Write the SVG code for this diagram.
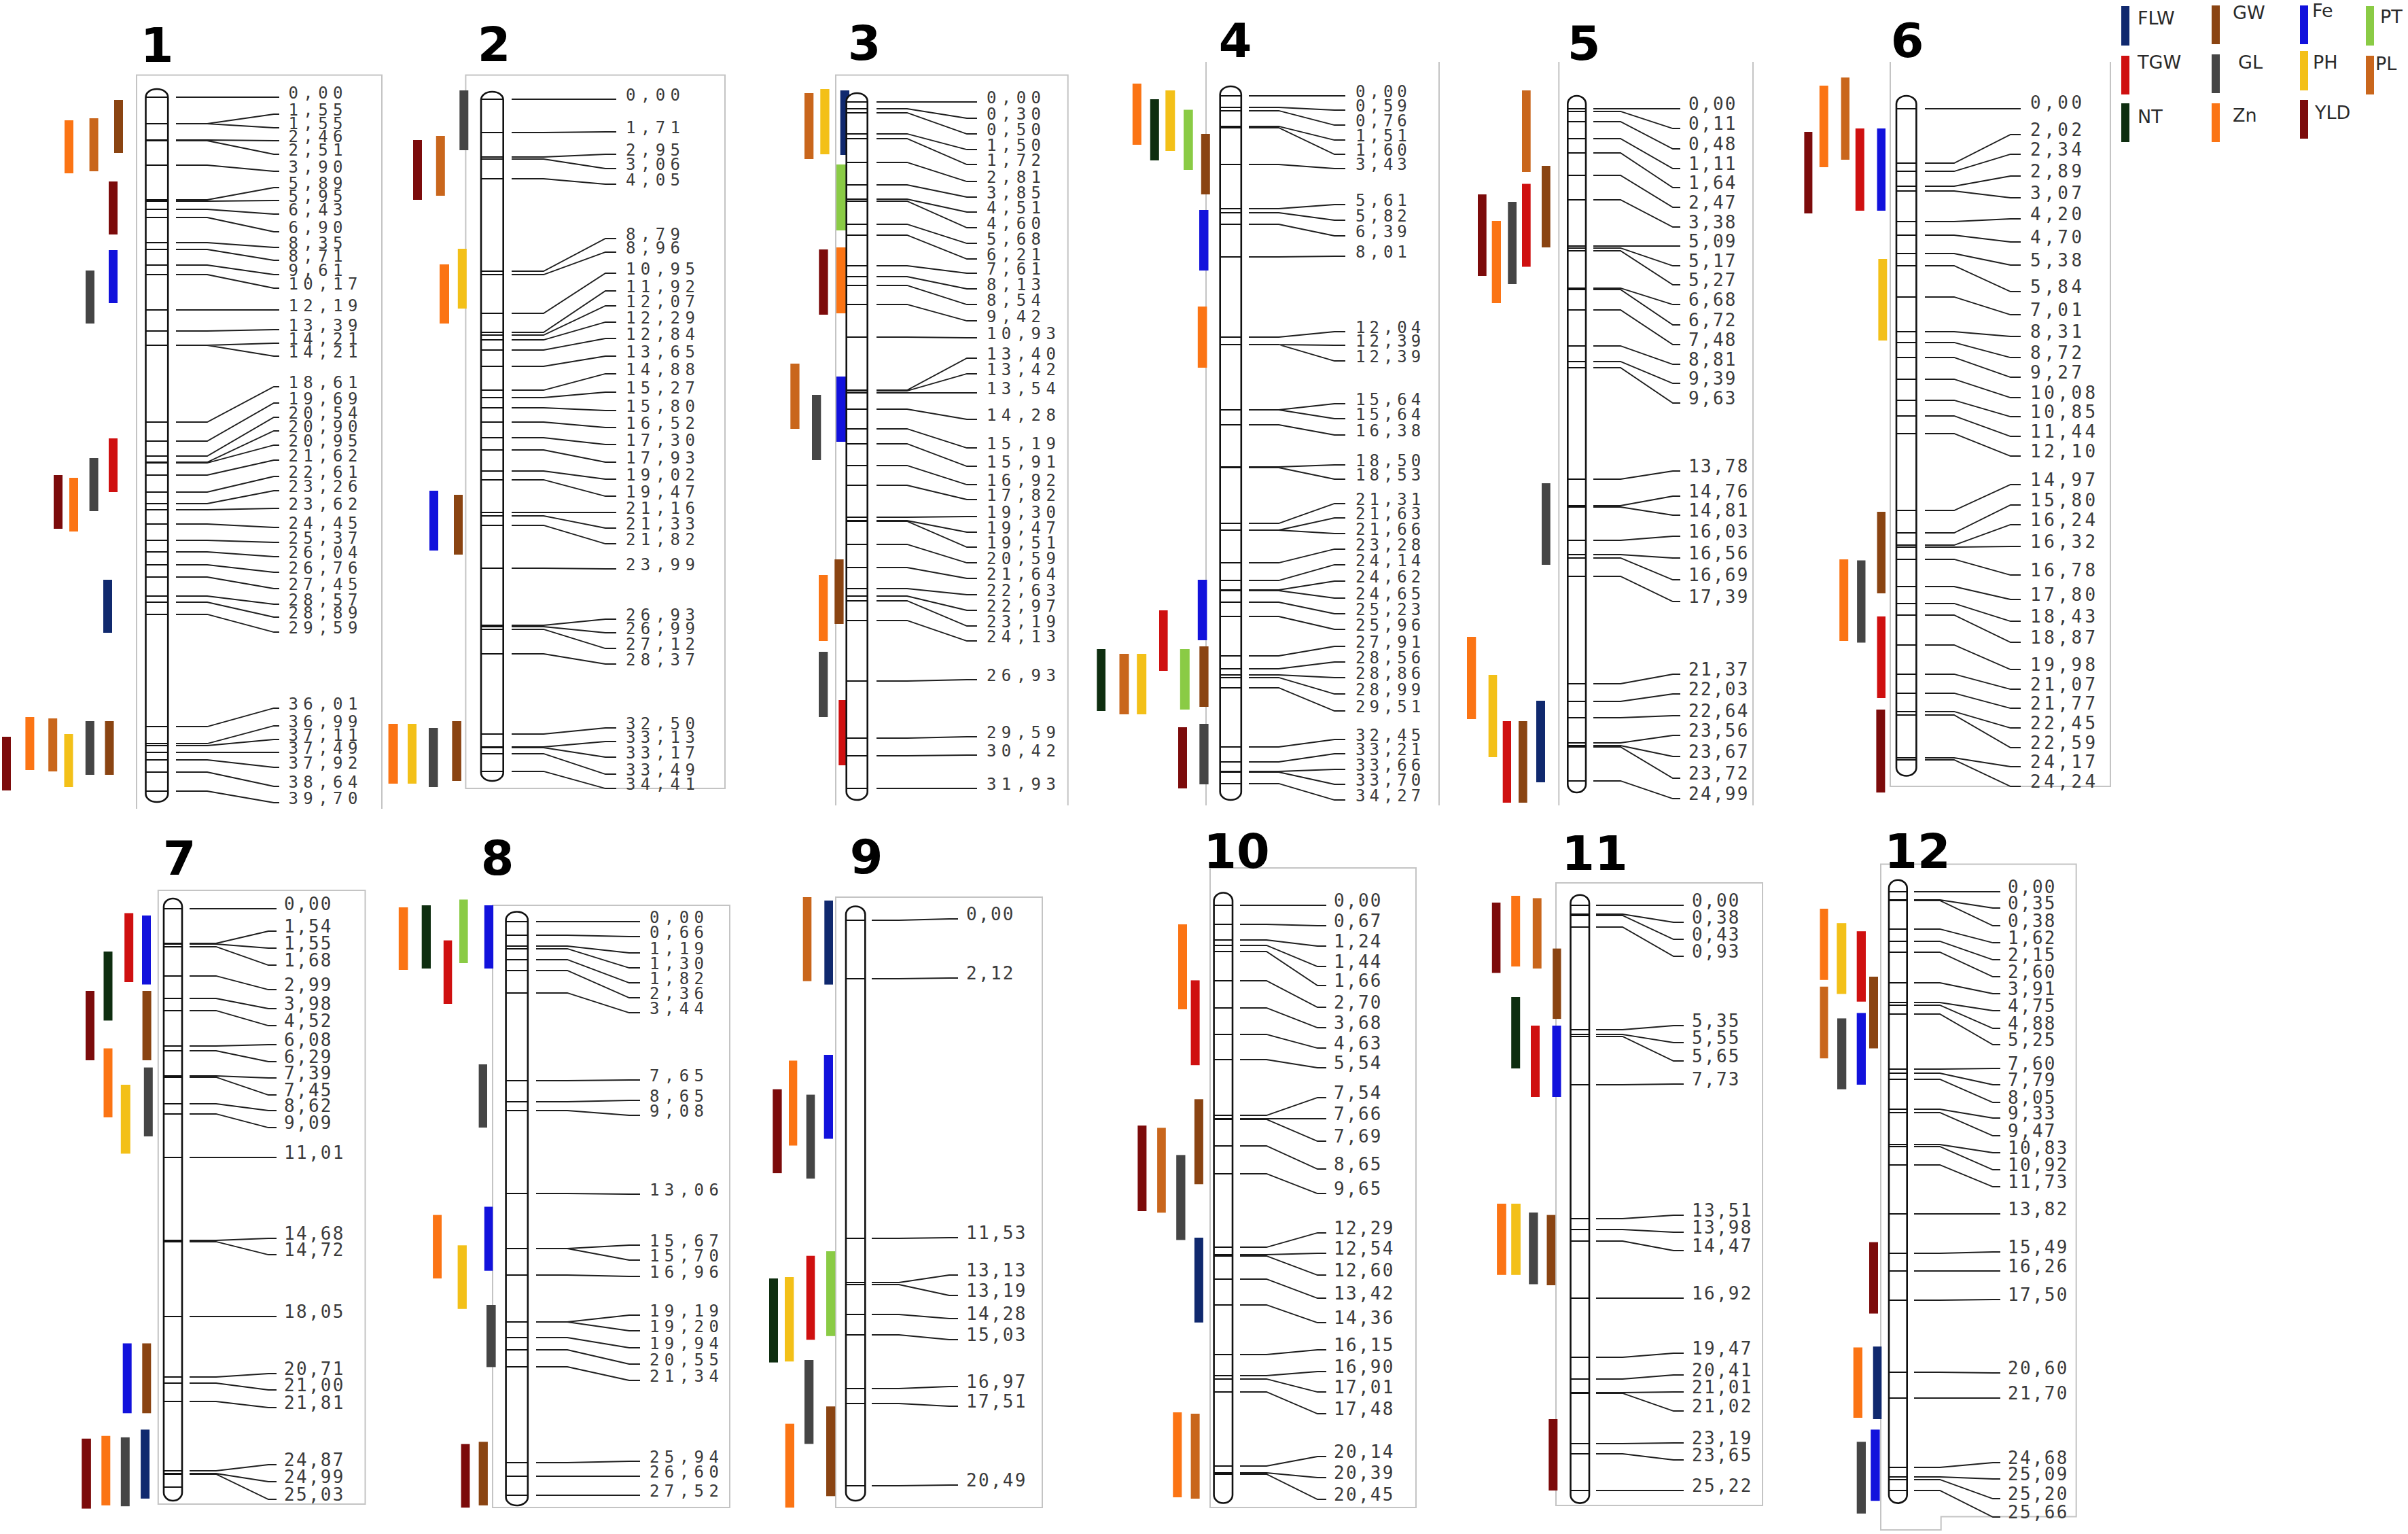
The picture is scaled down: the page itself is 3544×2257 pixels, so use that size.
<svg xmlns="http://www.w3.org/2000/svg" width="3544" height="2257" viewBox="0 0 3544 2257">
<style>
.frame{fill:none;stroke:#c4c4c4;stroke-width:2}
.rod{fill:#fff;stroke:#111;stroke-width:2.6}
.tk{fill:none;stroke:#111;stroke-width:1.8}
.lk{fill:none;stroke:#1e1e1e;stroke-width:1.8}
.lb{font-family:"DejaVu Sans Mono","Liberation Mono",monospace;font-size:26px;fill:#3a3a3a}
.wA{font-size:24px;letter-spacing:7.4px}
.wB{font-size:24px;letter-spacing:6px}
.wB6{letter-spacing:4.5px}
.wC{letter-spacing:2.3px}
.ttl{font-family:"DejaVu Sans","Liberation Sans",sans-serif;font-weight:bold;font-size:70px;text-anchor:middle;fill:#000}
.lg{font-family:"DejaVu Sans","Liberation Sans",sans-serif;font-size:27px;fill:#2a2a2a}
.FLW{fill:#10296e}.GW{fill:#8a4412}.Fe{fill:#1212dc}.PT{fill:#8acb45}
.TGW{fill:#cf1010}.GL{fill:#454545}.PH{fill:#f3c018}.PL{fill:#c9661c}
.NT{fill:#0e2e10}.Zn{fill:#fb7414}.YLD{fill:#7c0b0b}
</style>
<rect width="3544" height="2257" fill="#fff"/>

<g id="legend">
<rect class="FLW" x="3122" y="9" width="12" height="58"/><text class="lg" x="3146" y="36">FLW</text>
<rect class="TGW" x="3122" y="82" width="12" height="57"/><text class="lg" x="3146" y="101">TGW</text>
<rect class="NT" x="3122" y="152" width="12" height="57"/><text class="lg" x="3146" y="181">NT</text>
<rect class="GW" x="3255" y="8" width="12" height="57"/><text class="lg" x="3286" y="28">GW</text>
<rect class="GL" x="3255" y="80" width="12" height="57"/><text class="lg" x="3294" y="101">GL</text>
<rect class="Zn" x="3255" y="152" width="12" height="57"/><text class="lg" x="3286" y="179">Zn</text>
<rect class="Fe" x="3385" y="8" width="12" height="57"/><text class="lg" x="3403" y="25">Fe</text>
<rect class="PH" x="3385" y="75" width="12" height="58"/><text class="lg" x="3404" y="101">PH</text>
<rect class="YLD" x="3385" y="147" width="12" height="57"/><text class="lg" x="3407" y="175">YLD</text>
<rect class="PT" x="3482" y="9" width="12" height="58"/><text class="lg" x="3503" y="34">PT</text>
<rect class="PL" x="3482" y="82" width="12" height="57"/><text class="lg" x="3496" y="103">PL</text>
</g>

<!-- ================= CHR 1 ================= -->
<g id="chr1">
<path class="frame" d="M201 1190V110.5H562V1190"/>
<text class="ttl" x="231" y="91">1</text>
<g class="qtl">
<rect class="Zn" x="95" y="177" width="13" height="78"/>
<rect class="PL" x="131.6" y="174" width="13" height="78"/>
<rect class="GW" x="168" y="147" width="13" height="78"/>
<rect class="YLD" x="160" y="267" width="13" height="78"/>
<rect class="Fe" x="160" y="368" width="13" height="78"/>
<rect class="GL" x="126" y="398" width="13" height="78"/>
<rect class="TGW" x="160" y="645" width="13" height="79"/>
<rect class="GL" x="131.6" y="674" width="13" height="78"/>
<rect class="YLD" x="79" y="699" width="13" height="79"/>
<rect class="Zn" x="102" y="703" width="13" height="79"/>
<rect class="FLW" x="152" y="853" width="13" height="78"/>
<rect class="YLD" x="3" y="1084" width="13" height="79"/>
<rect class="Zn" x="37.4" y="1055" width="13" height="78"/>
<rect class="PL" x="71.2" y="1057" width="13" height="78"/>
<rect class="PH" x="94.5" y="1080" width="13" height="78"/>
<rect class="GL" x="125.8" y="1061" width="13" height="79"/>
<rect class="GW" x="154.5" y="1061" width="13" height="79"/>
</g>
<rect class="rod" x="214.5" y="131" width="32.7" height="1049" rx="16" ry="12"/>
<path class="tk" d="M215 143h32M215 182h32M215 206h32M215 207h32M215 243h32M215 294h32M215 296h32M215 308h32M215 320h32M215 357h32M215 367h32M215 390h32M215 404h32M215 456h32M215 487h32M215 508h32M215 621h32M215 649h32M215 671h32M215 680h32M215 681h32M215 699h32M215 724h32M215 741h32M215 750h32M215 771h32M215 795h32M215 812h32M215 831h32M215 849h32M215 877h32M215 886h32M215 904h32M215 1069h32M215 1094h32M215 1097h32M215 1107h32M215 1118h32M215 1136h32M215 1164h32"/>
<path class="lk" d="M259 143H305L403 143H411M259 182H305L403 168H411M259 182H305L403 188H411M259 206H305L403 207H411M259 207H305L403 227H411M259 243H305L403 252H411M259 294H305L403 276H411M259 296H305L403 295H411M259 308H305L403 315H411M259 320H305L403 341H411M259 357H305L403 364H411M259 367H305L403 383H411M259 390H305L403 404H411M259 404H305L403 424H411M259 456H305L403 456H411M259 487H305L403 485H411M259 508H305L403 505H411M259 508H305L403 524H411M259 621H305L403 569H411M259 649H305L403 593H411M259 671H305L403 614H411M259 680H305L403 634H411M259 681H305L403 655H411M259 699H305L403 677H411M259 724H305L403 701H411M259 741H305L403 722H411M259 750H305L403 748H411M259 771H305L403 776H411M259 795H305L403 798H411M259 812H305L403 819H411M259 831H305L403 842H411M259 849H305L403 866H411M259 877H305L403 889H411M259 886H305L403 908H411M259 904H305L403 930H411M259 1069H305L403 1042H411M259 1094H305L403 1068H411M259 1097H305L403 1088H411M259 1107H305L403 1107H411M259 1118H305L403 1129H411M259 1136H305L403 1157H411M259 1164H305L403 1181H411"/>
<g class="lb wA">
<text x="424.5" y="145">0,00</text><text x="424.5" y="170">1,55</text><text x="424.5" y="190">1,55</text><text x="424.5" y="209">2,46</text><text x="424.5" y="229">2,51</text><text x="424.5" y="254">3,90</text><text x="424.5" y="278">5,89</text><text x="424.5" y="297">5,95</text><text x="424.5" y="317">6,43</text><text x="424.5" y="343">6,90</text><text x="424.5" y="366">8,35</text><text x="424.5" y="385">8,71</text><text x="424.5" y="406">9,61</text><text x="424.5" y="426">10,17</text><text x="424.5" y="458">12,19</text><text x="424.5" y="487">13,39</text><text x="424.5" y="507">14,21</text><text x="424.5" y="526">14,21</text><text x="424.5" y="571">18,61</text><text x="424.5" y="595">19,69</text><text x="424.5" y="616">20,54</text><text x="424.5" y="636">20,90</text><text x="424.5" y="657">20,95</text><text x="424.5" y="679">21,62</text><text x="424.5" y="703">22,61</text><text x="424.5" y="724">23,26</text><text x="424.5" y="750">23,62</text><text x="424.5" y="778">24,45</text><text x="424.5" y="800">25,37</text><text x="424.5" y="821">26,04</text><text x="424.5" y="844">26,76</text><text x="424.5" y="868">27,45</text><text x="424.5" y="891">28,57</text><text x="424.5" y="910">28,89</text><text x="424.5" y="932">29,59</text><text x="424.5" y="1044">36,01</text><text x="424.5" y="1070">36,99</text><text x="424.5" y="1090">37,11</text><text x="424.5" y="1109">37,49</text><text x="424.5" y="1131">37,92</text><text x="424.5" y="1159">38,64</text><text x="424.5" y="1183">39,70</text>
</g>
</g>

<!-- ================= CHR 2 ================= -->
<g id="chr2">
<rect class="frame" x="685.4" y="110.5" width="381.6" height="1049.5"/>
<text class="ttl" x="727" y="90">2</text>
<g class="qtl">
<rect class="GL" x="676.3" y="133" width="13" height="88"/>
<rect class="YLD" x="608" y="206" width="13" height="88"/>
<rect class="PL" x="641.8" y="200" width="13" height="88"/>
<rect class="PH" x="673.8" y="366" width="13" height="88"/>
<rect class="Zn" x="647" y="389" width="14" height="87"/>
<rect class="Fe" x="632" y="722" width="13" height="88"/>
<rect class="GW" x="668" y="728" width="13" height="88"/>
<rect class="Zn" x="571.6" y="1065" width="14" height="88"/>
<rect class="PH" x="600" y="1065" width="13" height="88"/>
<rect class="GL" x="631" y="1071" width="13.5" height="87"/>
<rect class="GW" x="665.4" y="1061" width="13.5" height="88"/>
</g>
<rect class="rod" x="708" y="135" width="32.7" height="1014" rx="16" ry="12"/>
<path class="tk" d="M708 146h33M708 195h33M708 231h33M708 234h33M708 263h33M708 399h33M708 404h33M708 461h33M708 489h33M708 493h33M708 500h33M708 515h33M708 539h33M708 574h33M708 585h33M708 600h33M708 621h33M708 644h33M708 662h33M708 693h33M708 706h33M708 754h33M708 759h33M708 773h33M708 836h33M708 920h33M708 922h33M708 926h33M708 962h33M708 1080h33M708 1099h33M708 1100h33M708 1109h33M708 1135h33"/>
<path class="lk" d="M753 146H800L891 146H907M753 195H800L891 194H907M753 231H800L891 227H907M753 234H800L891 248H907M753 263H800L891 271H907M753 399H800L891 351H907M753 404H800L891 371H907M753 461H800L891 402H907M753 489H800L891 428H907M753 493H800L891 450H907M753 500H800L891 474H907M753 515H800L891 498H907M753 539H800L891 524H907M753 574H800L891 550H907M753 585H800L891 577H907M753 600H800L891 604H907M753 621H800L891 629H907M753 644H800L891 654H907M753 662H800L891 680H907M753 693H800L891 705H907M753 706H800L891 730H907M753 754H800L891 754H907M753 759H800L891 777H907M753 773H800L891 800H907M753 836H800L891 837H907M753 920H800L891 911H907M753 922H800L891 931H907M753 926H800L891 954H907M753 962H800L891 977H907M753 1080H800L891 1071H907M753 1099H800L891 1091H907M753 1100H800L891 1114H907M753 1109H800L891 1139H907M753 1135H800L891 1160H907"/>
<g class="lb wA">
<text x="921" y="148">0,00</text><text x="921" y="196">1,71</text><text x="921" y="229">2,95</text><text x="921" y="250">3,06</text><text x="921" y="273">4,05</text><text x="921" y="353">8,79</text><text x="921" y="373">8,96</text><text x="921" y="404">10,95</text><text x="921" y="430">11,92</text><text x="921" y="452">12,07</text><text x="921" y="476">12,29</text><text x="921" y="500">12,84</text><text x="921" y="526">13,65</text><text x="921" y="552">14,88</text><text x="921" y="579">15,27</text><text x="921" y="606">15,80</text><text x="921" y="631">16,52</text><text x="921" y="656">17,30</text><text x="921" y="682">17,93</text><text x="921" y="707">19,02</text><text x="921" y="732">19,47</text><text x="921" y="756">21,16</text><text x="921" y="779">21,33</text><text x="921" y="802">21,82</text><text x="921" y="839">23,99</text><text x="921" y="913">26,93</text><text x="921" y="933">26,99</text><text x="921" y="956">27,12</text><text x="921" y="979">28,37</text><text x="921" y="1073">32,50</text><text x="921" y="1093">33,13</text><text x="921" y="1116">33,17</text><text x="921" y="1141">33,49</text><text x="921" y="1162">34,41</text>
</g>
</g>

<!-- ================= CHR 3 ================= -->
<g id="chr3">
<path class="frame" d="M1230 1185V110.5H1571.7V1185"/>
<text class="ttl" x="1272" y="88">3</text>
<g class="qtl">
<rect class="PL" x="1184" y="137" width="13.3" height="97"/>
<rect class="PH" x="1207.3" y="131" width="13.3" height="96"/>
<rect class="FLW" x="1236.7" y="133" width="13.3" height="95"/>
<rect class="PT" x="1231" y="242" width="15" height="97"/>
<rect class="YLD" x="1205.3" y="367" width="13.3" height="96"/>
<rect class="Zn" x="1231" y="364" width="15" height="97"/>
<rect class="PL" x="1163.3" y="535" width="13.3" height="96"/>
<rect class="GL" x="1195" y="581" width="13.3" height="96"/>
<rect class="Fe" x="1231" y="554" width="15" height="96"/>
<rect class="GW" x="1228.3" y="823" width="13.3" height="95"/>
<rect class="Zn" x="1205" y="846" width="13.3" height="97"/>
<rect class="GL" x="1205" y="959" width="13.3" height="96"/>
<rect class="TGW" x="1234.3" y="1030" width="13.3" height="96"/>
</g>
<rect class="rod" x="1245.7" y="137" width="31" height="1040" rx="15.5" ry="12"/>
<path class="tk" d="M1246 150h31M1246 160h31M1246 166h31M1246 197h31M1246 204h31M1246 239h31M1246 272h31M1246 293h31M1246 296h31M1246 330h31M1246 346h31M1246 391h31M1246 407h31M1246 420h31M1246 448h31M1246 496h31M1246 574h31M1246 575h31M1246 578h31M1246 602h31M1246 631h31M1246 653h31M1246 685h31M1246 714h31M1246 761h31M1246 766h31M1246 767h31M1246 801h31M1246 835h31M1246 866h31M1246 877h31M1246 884h31M1246 913h31M1246 1002h31M1246 1086h31M1246 1112h31M1246 1160h31"/>
<path class="lk" d="M1290 150H1335L1423 150H1438M1290 160H1335L1423 174H1438M1290 166H1335L1423 197H1438M1290 197H1335L1423 220H1438M1290 204H1335L1423 242H1438M1290 239H1335L1423 267H1438M1290 272H1335L1423 290H1438M1290 293H1335L1423 312H1438M1290 296H1335L1423 335H1438M1290 330H1335L1423 358H1438M1290 346H1335L1423 381H1438M1290 391H1335L1423 402H1438M1290 407H1335L1423 425H1438M1290 420H1335L1423 448H1438M1290 448H1335L1423 472H1438M1290 496H1335L1423 497H1438M1290 574H1335L1423 527H1438M1290 575H1335L1423 550H1438M1290 578H1335L1423 578H1438M1290 602H1335L1423 617H1438M1290 631H1335L1423 659H1438M1290 653H1335L1423 686H1438M1290 685H1335L1423 713H1438M1290 714H1335L1423 735H1438M1290 761H1335L1423 760H1438M1290 766H1335L1423 783H1438M1290 767H1335L1423 805H1438M1290 801H1335L1423 828H1438M1290 835H1335L1423 851H1438M1290 866H1335L1423 875H1438M1290 877H1335L1423 898H1438M1290 884H1335L1423 921H1438M1290 913H1335L1423 943H1438M1290 1002H1335L1423 1000H1438M1290 1086H1335L1423 1084H1438M1290 1112H1335L1423 1111H1438M1290 1160H1335L1423 1160H1438"/>
<g class="lb wA">
<text x="1452" y="152">0,00</text><text x="1452" y="176">0,30</text><text x="1452" y="199">0,50</text><text x="1452" y="222">1,50</text><text x="1452" y="244">1,72</text><text x="1452" y="269">2,81</text><text x="1452" y="292">3,85</text><text x="1452" y="314">4,51</text><text x="1452" y="337">4,60</text><text x="1452" y="360">5,68</text><text x="1452" y="383">6,21</text><text x="1452" y="404">7,61</text><text x="1452" y="427">8,13</text><text x="1452" y="450">8,54</text><text x="1452" y="474">9,42</text><text x="1452" y="499">10,93</text><text x="1452" y="529">13,40</text><text x="1452" y="552">13,42</text><text x="1452" y="580">13,54</text><text x="1452" y="619">14,28</text><text x="1452" y="661">15,19</text><text x="1452" y="688">15,91</text><text x="1452" y="715">16,92</text><text x="1452" y="737">17,82</text><text x="1452" y="762">19,30</text><text x="1452" y="785">19,47</text><text x="1452" y="807">19,51</text><text x="1452" y="830">20,59</text><text x="1452" y="853">21,64</text><text x="1452" y="877">22,63</text><text x="1452" y="900">22,97</text><text x="1452" y="923">23,19</text><text x="1452" y="945">24,13</text><text x="1452" y="1002">26,93</text><text x="1452" y="1086">29,59</text><text x="1452" y="1113">30,42</text><text x="1452" y="1162">31,93</text>
</g>
</g>

<!-- ================= CHR 4 ================= -->
<g id="chr4">
<path class="frame" d="M1775 91V1185M2118 91V1185"/>
<text class="ttl" x="1818" y="84">4</text>
<g class="qtl">
<rect class="Zn" x="1666.8" y="123" width="13" height="90"/>
<rect class="NT" x="1692.8" y="146" width="13" height="90"/>
<rect class="PH" x="1715.3" y="133" width="14" height="89"/>
<rect class="PT" x="1742" y="161.5" width="13.7" height="88.5"/>
<rect class="GW" x="1767.8" y="197" width="13" height="89"/>
<rect class="Fe" x="1765" y="309" width="13.5" height="89"/>
<rect class="Zn" x="1762.8" y="451" width="13.6" height="90"/>
<rect class="Fe" x="1762.8" y="853" width="13.6" height="89"/>
<rect class="TGW" x="1706" y="898" width="12.6" height="89"/>
<rect class="NT" x="1614.3" y="955" width="12.7" height="91"/>
<rect class="PL" x="1647.5" y="962" width="14" height="89"/>
<rect class="PH" x="1673.2" y="962" width="14" height="89"/>
<rect class="PT" x="1736.8" y="955" width="14" height="89"/>
<rect class="GW" x="1765.3" y="951" width="13.3" height="89"/>
<rect class="YLD" x="1734" y="1070" width="13" height="90"/>
<rect class="GL" x="1765.3" y="1065" width="13.3" height="89"/>
</g>
<rect class="rod" x="1795.7" y="127" width="31.1" height="1050" rx="15.5" ry="12"/>
<path class="tk" d="M1796 141h31M1796 158h31M1796 163h31M1796 186h31M1796 188h31M1796 242h31M1796 307h31M1796 313h31M1796 330h31M1796 378h31M1796 496h31M1796 507h31M1796 603h31M1796 625h31M1796 687h31M1796 688h31M1796 770h31M1796 780h31M1796 828h31M1796 854h31M1796 868h31M1796 869h31M1796 886h31M1796 907h31M1796 965h31M1796 984h31M1796 993h31M1796 997h31M1796 1012h31M1796 1099h31M1796 1121h31M1796 1135h31M1796 1136h31M1796 1153h31"/>
<path class="lk" d="M1838 141H1882L1964 141H1980M1838 158H1882L1964 162H1980M1838 163H1882L1964 184H1980M1838 186H1882L1964 206H1980M1838 188H1882L1964 227H1980M1838 242H1882L1964 248H1980M1838 307H1882L1964 301H1980M1838 313H1882L1964 324H1980M1838 330H1882L1964 347H1980M1838 378H1882L1964 377H1980M1838 496H1882L1964 488H1980M1838 507H1882L1964 508H1980M1838 507H1882L1964 531H1980M1838 603H1882L1964 594H1980M1838 603H1882L1964 616H1980M1838 625H1882L1964 640H1980M1838 687H1882L1964 684H1980M1838 688H1882L1964 705H1980M1838 770H1882L1964 741H1980M1838 780H1882L1964 762H1980M1838 780H1882L1964 785H1980M1838 828H1882L1964 808H1980M1838 854H1882L1964 831H1980M1838 868H1882L1964 855H1980M1838 869H1882L1964 880H1980M1838 886H1882L1964 903H1980M1838 907H1882L1964 926H1980M1838 965H1882L1964 951H1980M1838 984H1882L1964 974H1980M1838 993H1882L1964 997H1980M1838 997H1882L1964 1021H1980M1838 1012H1882L1964 1046H1980M1838 1099H1882L1964 1088H1980M1838 1121H1882L1964 1109H1980M1838 1135H1882L1964 1132H1980M1838 1136H1882L1964 1154H1980M1838 1153H1882L1964 1177H1980"/>
<g class="lb wB">
<text x="1995" y="143">0,00</text><text x="1995" y="164">0,59</text><text x="1995" y="186">0,76</text><text x="1995" y="208">1,51</text><text x="1995" y="229">1,60</text><text x="1995" y="250">3,43</text><text x="1995" y="303">5,61</text><text x="1995" y="326">5,82</text><text x="1995" y="349">6,39</text><text x="1995" y="379">8,01</text><text x="1995" y="490">12,04</text><text x="1995" y="510">12,39</text><text x="1995" y="533">12,39</text><text x="1995" y="596">15,64</text><text x="1995" y="618">15,64</text><text x="1995" y="642">16,38</text><text x="1995" y="686">18,50</text><text x="1995" y="707">18,53</text><text x="1995" y="743">21,31</text><text x="1995" y="764">21,63</text><text x="1995" y="787">21,66</text><text x="1995" y="810">23,28</text><text x="1995" y="833">24,14</text><text x="1995" y="857">24,62</text><text x="1995" y="882">24,65</text><text x="1995" y="905">25,23</text><text x="1995" y="928">25,96</text><text x="1995" y="953">27,91</text><text x="1995" y="976">28,56</text><text x="1995" y="999">28,86</text><text x="1995" y="1023">28,99</text><text x="1995" y="1048">29,51</text><text x="1995" y="1090">32,45</text><text x="1995" y="1111">33,21</text><text x="1995" y="1134">33,66</text><text x="1995" y="1156">33,70</text><text x="1995" y="1179">34,27</text>
</g>
</g>

<!-- ================= CHR 5 ================= -->
<g id="chr5">
<path class="frame" d="M2294.3 91V1185M2580 91V1185"/>
<text class="ttl" x="2331" y="88">5</text>
<g class="qtl">
<rect class="PL" x="2240" y="133" width="12.7" height="120"/>
<rect class="GW" x="2269" y="244" width="12.7" height="120"/>
<rect class="YLD" x="2175" y="286" width="12.7" height="120"/>
<rect class="Zn" x="2195.7" y="325" width="13.3" height="121"/>
<rect class="GL" x="2219.3" y="297" width="12.7" height="121"/>
<rect class="TGW" x="2240" y="270.5" width="12.7" height="122"/>
<rect class="GL" x="2269" y="711" width="12.7" height="120"/>
<rect class="Zn" x="2159" y="937" width="13.3" height="121"/>
<rect class="PH" x="2190.7" y="993" width="12.6" height="121"/>
<rect class="TGW" x="2211.7" y="1061" width="12.3" height="120"/>
<rect class="GW" x="2235" y="1061" width="12.7" height="120"/>
<rect class="FLW" x="2261" y="1031" width="13" height="120"/>
</g>
<rect class="rod" x="2307.3" y="141" width="26.7" height="1025" rx="13.3" ry="12"/>
<path class="tk" d="M2307 160h27M2307 164h27M2307 179h27M2307 204h27M2307 225h27M2307 258h27M2307 294h27M2307 362h27M2307 365h27M2307 369h27M2307 424h27M2307 426h27M2307 456h27M2307 509h27M2307 532h27M2307 541h27M2307 705h27M2307 744h27M2307 746h27M2307 795h27M2307 816h27M2307 821h27M2307 848h27M2307 1006h27M2307 1032h27M2307 1056h27M2307 1093h27M2307 1097h27M2307 1099h27M2307 1149h27"/>
<path class="lk" d="M2345 160H2385L2462 160H2473M2345 164H2385L2462 189H2473M2345 179H2385L2462 219H2473M2345 204H2385L2462 248H2473M2345 225H2385L2462 276H2473M2345 258H2385L2462 305H2473M2345 294H2385L2462 334H2473M2345 362H2385L2462 362H2473M2345 365H2385L2462 391H2473M2345 369H2385L2462 419H2473M2345 424H2385L2462 448H2473M2345 426H2385L2462 478H2473M2345 456H2385L2462 507H2473M2345 509H2385L2462 536H2473M2345 532H2385L2462 564H2473M2345 541H2385L2462 593H2473M2345 705H2385L2462 693H2473M2345 744H2385L2462 730H2473M2345 746H2385L2462 758H2473M2345 795H2385L2462 789H2473M2345 816H2385L2462 821H2473M2345 821H2385L2462 853H2473M2345 848H2385L2462 885H2473M2345 1006H2385L2462 992H2473M2345 1032H2385L2462 1021H2473M2345 1056H2385L2462 1053H2473M2345 1093H2385L2462 1082H2473M2345 1097H2385L2462 1113H2473M2345 1099H2385L2462 1145H2473M2345 1149H2385L2462 1175H2473"/>
<g class="lb wC">
<text x="2485" y="162">0,00</text><text x="2485" y="191">0,11</text><text x="2485" y="221">0,48</text><text x="2485" y="250">1,11</text><text x="2485" y="278">1,64</text><text x="2485" y="307">2,47</text><text x="2485" y="336">3,38</text><text x="2485" y="364">5,09</text><text x="2485" y="393">5,17</text><text x="2485" y="421">5,27</text><text x="2485" y="450">6,68</text><text x="2485" y="480">6,72</text><text x="2485" y="509">7,48</text><text x="2485" y="538">8,81</text><text x="2485" y="566">9,39</text><text x="2485" y="595">9,63</text><text x="2485" y="695">13,78</text><text x="2485" y="732">14,76</text><text x="2485" y="760">14,81</text><text x="2485" y="791">16,03</text><text x="2485" y="823">16,56</text><text x="2485" y="855">16,69</text><text x="2485" y="887">17,39</text><text x="2485" y="994">21,37</text><text x="2485" y="1023">22,03</text><text x="2485" y="1055">22,64</text><text x="2485" y="1084">23,56</text><text x="2485" y="1115">23,67</text><text x="2485" y="1147">23,72</text><text x="2485" y="1177">24,99</text>
</g>
</g>

<!-- ================= CHR 6 ================= -->
<g id="chr6">
<path class="frame" d="M2782 91V1157H3106V91"/>
<text class="ttl" x="2807" y="84">6</text>
<g class="qtl">
<rect class="YLD" x="2655.4" y="194" width="12" height="120"/>
<rect class="Zn" x="2677.8" y="126" width="12.9" height="120"/>
<rect class="PL" x="2709.6" y="114" width="12.4" height="121"/>
<rect class="TGW" x="2730.8" y="189" width="13" height="121"/>
<rect class="Fe" x="2762.6" y="189" width="12.4" height="121"/>
<rect class="PH" x="2764.4" y="381" width="12.9" height="120"/>
<rect class="GW" x="2762.6" y="753" width="12.4" height="120"/>
<rect class="Zn" x="2707.2" y="823" width="13" height="120"/>
<rect class="GL" x="2733.1" y="824.5" width="12.4" height="121"/>
<rect class="TGW" x="2762.6" y="907" width="12.4" height="120"/>
<rect class="YLD" x="2761.4" y="1044" width="13" height="122"/>
</g>
<rect class="rod" x="2791" y="141" width="29.4" height="1000.5" rx="14.7" ry="12"/>
<path class="tk" d="M2791 160h29M2791 240h29M2791 252h29M2791 274h29M2791 281h29M2791 326h29M2791 346h29M2791 373h29M2791 391h29M2791 437h29M2791 488h29M2791 504h29M2791 526h29M2791 558h29M2791 589h29M2791 612h29M2791 638h29M2791 751h29M2791 784h29M2791 802h29M2791 805h29M2791 823h29M2791 863h29M2791 888h29M2791 905h29M2791 949h29M2791 992h29M2791 1020h29M2791 1047h29M2791 1052h29M2791 1115h29M2791 1118h29"/>
<path class="lk" d="M2833 160H2876L2959 160H2974M2833 240H2876L2959 198H2974M2833 252H2876L2959 227H2974M2833 274H2876L2959 259H2974M2833 281H2876L2959 291H2974M2833 326H2876L2959 322H2974M2833 346H2876L2959 356H2974M2833 373H2876L2959 390H2974M2833 391H2876L2959 429H2974M2833 437H2876L2959 463H2974M2833 488H2876L2959 495H2974M2833 504H2876L2959 526H2974M2833 526H2876L2959 555H2974M2833 558H2876L2959 585H2974M2833 589H2876L2959 613H2974M2833 612H2876L2959 642H2974M2833 638H2876L2959 671H2974M2833 751H2876L2959 713H2974M2833 784H2876L2959 743H2974M2833 802H2876L2959 772H2974M2833 805H2876L2959 804H2974M2833 823H2876L2959 846H2974M2833 863H2876L2959 882H2974M2833 888H2876L2959 914H2974M2833 905H2876L2959 945H2974M2833 949H2876L2959 985H2974M2833 992H2876L2959 1014H2974M2833 1020H2876L2959 1042H2974M2833 1047H2876L2959 1071H2974M2833 1052H2876L2959 1100H2974M2833 1115H2876L2959 1128H2974M2833 1118H2876L2959 1157H2974"/>
<g class="lb wB6">
<text x="2988" y="160">0,00</text><text x="2988" y="200">2,02</text><text x="2988" y="229">2,34</text><text x="2988" y="261">2,89</text><text x="2988" y="293">3,07</text><text x="2988" y="324">4,20</text><text x="2988" y="358">4,70</text><text x="2988" y="392">5,38</text><text x="2988" y="431">5,84</text><text x="2988" y="465">7,01</text><text x="2988" y="497">8,31</text><text x="2988" y="528">8,72</text><text x="2988" y="557">9,27</text><text x="2988" y="587">10,08</text><text x="2988" y="615">10,85</text><text x="2988" y="644">11,44</text><text x="2988" y="673">12,10</text><text x="2988" y="715">14,97</text><text x="2988" y="745">15,80</text><text x="2988" y="774">16,24</text><text x="2988" y="806">16,32</text><text x="2988" y="848">16,78</text><text x="2988" y="884">17,80</text><text x="2988" y="916">18,43</text><text x="2988" y="947">18,87</text><text x="2988" y="987">19,98</text><text x="2988" y="1016">21,07</text><text x="2988" y="1044">21,77</text><text x="2988" y="1073">22,45</text><text x="2988" y="1102">22,59</text><text x="2988" y="1130">24,17</text><text x="2988" y="1159">24,24</text>
</g>
</g>

<!-- ================= CHR 7 ================= -->
<g id="chr7">
<rect class="frame" x="232.8" y="1310" width="304.7" height="903"/>
<text class="ttl" x="264" y="1287">7</text>
<g class="qtl">
<rect class="TGW" x="183.2" y="1343.5" width="13" height="101.5"/>
<rect class="Fe" x="209" y="1347" width="13" height="101.5"/>
<rect class="NT" x="152.5" y="1400" width="13" height="101.5"/>
<rect class="YLD" x="126" y="1458" width="13" height="102"/>
<rect class="GW" x="209.6" y="1458" width="13" height="102"/>
<rect class="Zn" x="152.5" y="1542.5" width="13" height="101.5"/>
<rect class="PH" x="177.8" y="1596" width="14" height="101.4"/>
<rect class="GL" x="211.8" y="1570.6" width="13" height="101.4"/>
<rect class="Fe" x="180.7" y="1976.5" width="13" height="102.8"/>
<rect class="GW" x="209.3" y="1976.5" width="13" height="102.8"/>
<rect class="YLD" x="120.3" y="2116.7" width="13.6" height="102.9"/>
<rect class="Zn" x="149.3" y="2112.7" width="13" height="102.2"/>
<rect class="GL" x="177.8" y="2114.7" width="13" height="101.5"/>
<rect class="FLW" x="207.1" y="2103.4" width="13" height="101.5"/>
</g>
<rect class="rod" x="241" y="1322" width="27" height="886" rx="13.5" ry="12"/>
<path class="tk" d="M241 1337h27M241 1388h27M241 1389h27M241 1393h27M241 1436h27M241 1469h27M241 1487h27M241 1539h27M241 1546h27M241 1583h27M241 1585h27M241 1624h27M241 1639h27M241 1703h27M241 1825h27M241 1827h27M241 1937h27M241 2026h27M241 2035h27M241 2062h27M241 2164h27M241 2168h27M241 2169h27M241 2188h27"/>
<path class="lk" d="M279 1337H318L395 1337H407M279 1388H318L395 1370H407M279 1389H318L395 1395H407M279 1393H318L395 1420H407M279 1436H318L395 1456H407M279 1469H318L395 1484H407M279 1487H318L395 1509H407M279 1539H318L395 1537H407M279 1546H318L395 1562H407M279 1583H318L395 1586H407M279 1585H318L395 1611H407M279 1624H318L395 1634H407M279 1639H318L395 1659H407M279 1703H318L395 1703H407M279 1825H318L395 1822H407M279 1827H318L395 1846H407M279 1937H318L395 1937H407M279 2026H318L395 2021H407M279 2035H318L395 2045H407M279 2062H318L395 2071H407M279 2164H318L395 2155H407M279 2168H318L395 2180H407M279 2169H318L395 2206H407"/>
<g class="lb wC">
<text x="418" y="1339">0,00</text><text x="418" y="1372">1,54</text><text x="418" y="1397">1,55</text><text x="418" y="1422">1,68</text><text x="418" y="1458">2,99</text><text x="418" y="1486">3,98</text><text x="418" y="1511">4,52</text><text x="418" y="1539">6,08</text><text x="418" y="1564">6,29</text><text x="418" y="1588">7,39</text><text x="418" y="1613">7,45</text><text x="418" y="1636">8,62</text><text x="418" y="1661">9,09</text><text x="418" y="1705">11,01</text><text x="418" y="1824">14,68</text><text x="418" y="1848">14,72</text><text x="418" y="1939">18,05</text><text x="418" y="2023">20,71</text><text x="418" y="2047">21,00</text><text x="418" y="2073">21,81</text><text x="418" y="2157">24,87</text><text x="418" y="2182">24,99</text><text x="418" y="2208">25,03</text>
</g>
</g>

<!-- ================= CHR 8 ================= -->
<g id="chr8">
<rect class="frame" x="725" y="1332" width="349" height="886"/>
<text class="ttl" x="732" y="1287">8</text>
<g class="qtl">
<rect class="Zn" x="586.8" y="1335" width="13.6" height="92"/>
<rect class="NT" x="620.7" y="1332" width="13.3" height="93"/>
<rect class="TGW" x="652.8" y="1383.6" width="12.5" height="93.4"/>
<rect class="PT" x="676" y="1323.5" width="12.6" height="93.5"/>
<rect class="Fe" x="712.8" y="1332" width="13.3" height="93"/>
<rect class="GL" x="704.6" y="1566" width="12.4" height="93"/>
<rect class="Zn" x="637.1" y="1787.6" width="12.9" height="93.4"/>
<rect class="PH" x="673.6" y="1832.3" width="13.3" height="93.5"/>
<rect class="Fe" x="712.8" y="1775.5" width="12.5" height="94.2"/>
<rect class="GL" x="716" y="1920" width="13.6" height="91.4"/>
<rect class="YLD" x="678.6" y="2124.7" width="12.8" height="93.5"/>
<rect class="GW" x="704.6" y="2121.4" width="13.3" height="93.5"/>
</g>
<rect class="rod" x="744.6" y="1341.5" width="32.2" height="873.5" rx="16" ry="12"/>
<path class="tk" d="M745 1356h32M745 1376h32M745 1392h32M745 1396h32M745 1412h32M745 1428h32M745 1461h32M745 1590h32M745 1621h32M745 1634h32M745 1756h32M745 1837h32M745 1876h32M745 1945h32M745 1968h32M745 1986h32M745 2011h32M745 2152h32M745 2172h32M745 2200h32"/>
<path class="lk" d="M789 1356H835L926 1356H942M789 1376H835L926 1378H942M789 1392H835L926 1402H942M789 1396H835L926 1424H942M789 1412H835L926 1446H942M789 1428H835L926 1468H942M789 1461H835L926 1490H942M789 1590H835L926 1589H942M789 1621H835L926 1619H942M789 1634H835L926 1641H942M789 1756H835L926 1757H942M789 1837H835L926 1832H942M789 1837H835L926 1854H942M789 1876H835L926 1878H942M789 1945H835L926 1935H942M789 1945H835L926 1958H942M789 1968H835L926 1983H942M789 1986H835L926 2007H942M789 2011H835L926 2031H942M789 2152H835L926 2150H942M789 2172H835L926 2172H942M789 2200H835L926 2200H942"/>
<g class="lb wA">
<text x="956" y="1358">0,00</text><text x="956" y="1380">0,66</text><text x="956" y="1404">1,19</text><text x="956" y="1426">1,30</text><text x="956" y="1448">1,82</text><text x="956" y="1470">2,36</text><text x="956" y="1492">3,44</text><text x="956" y="1591">7,65</text><text x="956" y="1621">8,65</text><text x="956" y="1643">9,08</text><text x="956" y="1759">13,06</text><text x="956" y="1834">15,67</text><text x="956" y="1856">15,70</text><text x="956" y="1880">16,96</text><text x="956" y="1937">19,19</text><text x="956" y="1960">19,20</text><text x="956" y="1985">19,94</text><text x="956" y="2009">20,55</text><text x="956" y="2033">21,34</text><text x="956" y="2152">25,94</text><text x="956" y="2174">26,60</text><text x="956" y="2202">27,52</text>
</g>
</g>

<!-- ================= CHR 9 ================= -->
<g id="chr9">
<rect class="frame" x="1230" y="1320" width="304" height="898"/>
<text class="ttl" x="1275" y="1285">9</text>
<g class="qtl">
<rect class="PL" x="1181.7" y="1320" width="12.6" height="123.5"/>
<rect class="FLW" x="1213.3" y="1325" width="12.7" height="123.6"/>
<rect class="Zn" x="1161" y="1560.5" width="12.3" height="125"/>
<rect class="Fe" x="1212.7" y="1552" width="13.3" height="123.5"/>
<rect class="YLD" x="1137.3" y="1602.6" width="13.3" height="123.5"/>
<rect class="GL" x="1186.7" y="1610.6" width="12.6" height="123.5"/>
<rect class="TGW" x="1186.7" y="1847.7" width="12.6" height="123.5"/>
<rect class="PT" x="1216" y="1841" width="13.3" height="124.8"/>
<rect class="NT" x="1132" y="1881" width="13" height="123.6"/>
<rect class="PH" x="1155" y="1879" width="13.3" height="124.2"/>
<rect class="GL" x="1184" y="2001" width="13.3" height="123.5"/>
<rect class="Zn" x="1155.7" y="2094.7" width="13.3" height="123.5"/>
<rect class="GW" x="1216" y="2069.3" width="13.3" height="132"/>
</g>
<rect class="rod" x="1245" y="1333.5" width="28.3" height="874.5" rx="14" ry="12"/>
<path class="tk" d="M1245 1354h28M1245 1440h28M1245 1822h28M1245 1887h28M1245 1890h28M1245 1934h28M1245 1964h28M1245 2043h28M1245 2065h28M1245 2186h28"/>
<path class="lk" d="M1283 1354H1323L1397 1352H1410M1283 1440H1323L1397 1439H1410M1283 1822H1323L1397 1821H1410M1283 1887H1323L1397 1876H1410M1283 1890H1323L1397 1906H1410M1283 1934H1323L1397 1940H1410M1283 1964H1323L1397 1971H1410M1283 2043H1323L1397 2040H1410M1283 2065H1323L1397 2069H1410M1283 2186H1323L1397 2185H1410"/>
<g class="lb wC">
<text x="1422" y="1354">0,00</text><text x="1422" y="1441">2,12</text><text x="1422" y="1823">11,53</text><text x="1422" y="1878">13,13</text><text x="1422" y="1908">13,19</text><text x="1422" y="1942">14,28</text><text x="1422" y="1973">15,03</text><text x="1422" y="2042">16,97</text><text x="1422" y="2071">17,51</text><text x="1422" y="2187">20,49</text>
</g>
</g>

<!-- ================= CHR 10 ================= -->
<g id="chr10">
<rect class="frame" x="1781" y="1277" width="303" height="941"/>
<text class="ttl" x="1820" y="1277">10</text>
<g class="qtl">
<rect class="Zn" x="1734" y="1360" width="13" height="125"/>
<rect class="TGW" x="1752.6" y="1442.4" width="13" height="124.8"/>
<rect class="GW" x="1757.9" y="1617.3" width="13" height="125"/>
<rect class="YLD" x="1674.4" y="1656" width="13" height="126"/>
<rect class="PL" x="1703.1" y="1659.4" width="12.7" height="124.8"/>
<rect class="GL" x="1731.2" y="1699.4" width="13.3" height="125"/>
<rect class="FLW" x="1757.9" y="1821" width="13" height="124.8"/>
<rect class="Zn" x="1726.3" y="2078" width="13" height="125"/>
<rect class="PL" x="1752.6" y="2080" width="13" height="125"/>
</g>
<rect class="rod" x="1786.6" y="1313.5" width="27.4" height="898" rx="13.7" ry="12"/>
<path class="tk" d="M1787 1332h27M1787 1360h27M1787 1383h27M1787 1391h27M1787 1400h27M1787 1443h27M1787 1483h27M1787 1522h27M1787 1559h27M1787 1641h27M1787 1646h27M1787 1647h27M1787 1686h27M1787 1727h27M1787 1835h27M1787 1846h27M1787 1848h27M1787 1882h27M1787 1920h27M1787 1993h27M1787 2024h27M1787 2029h27M1787 2048h27M1787 2157h27M1787 2167h27M1787 2169h27"/>
<path class="lk" d="M1825 1332H1864L1939 1332H1952M1825 1360H1864L1939 1362H1952M1825 1383H1864L1939 1392H1952M1825 1391H1864L1939 1422H1952M1825 1400H1864L1939 1450H1952M1825 1443H1864L1939 1482H1952M1825 1483H1864L1939 1512H1952M1825 1522H1864L1939 1542H1952M1825 1559H1864L1939 1571H1952M1825 1641H1864L1939 1615H1952M1825 1646H1864L1939 1646H1952M1825 1647H1864L1939 1679H1952M1825 1686H1864L1939 1720H1952M1825 1727H1864L1939 1756H1952M1825 1835H1864L1939 1814H1952M1825 1846H1864L1939 1844H1952M1825 1848H1864L1939 1876H1952M1825 1882H1864L1939 1910H1952M1825 1920H1864L1939 1946H1952M1825 1993H1864L1939 1986H1952M1825 2024H1864L1939 2018H1952M1825 2029H1864L1939 2048H1952M1825 2048H1864L1939 2080H1952M1825 2157H1864L1939 2143H1952M1825 2167H1864L1939 2174H1952M1825 2169H1864L1939 2206H1952"/>
<g class="lb wC">
<text x="1963" y="1334">0,00</text><text x="1963" y="1364">0,67</text><text x="1963" y="1394">1,24</text><text x="1963" y="1424">1,44</text><text x="1963" y="1452">1,66</text><text x="1963" y="1484">2,70</text><text x="1963" y="1514">3,68</text><text x="1963" y="1544">4,63</text><text x="1963" y="1573">5,54</text><text x="1963" y="1617">7,54</text><text x="1963" y="1648">7,66</text><text x="1963" y="1681">7,69</text><text x="1963" y="1722">8,65</text><text x="1963" y="1758">9,65</text><text x="1963" y="1816">12,29</text><text x="1963" y="1846">12,54</text><text x="1963" y="1878">12,60</text><text x="1963" y="1912">13,42</text><text x="1963" y="1948">14,36</text><text x="1963" y="1988">16,15</text><text x="1963" y="2020">16,90</text><text x="1963" y="2050">17,01</text><text x="1963" y="2082">17,48</text><text x="1963" y="2145">20,14</text><text x="1963" y="2176">20,39</text><text x="1963" y="2208">20,45</text>
</g>
</g>

<!-- ================= CHR 11 ================= -->
<g id="chr11">
<rect class="frame" x="2290" y="1299" width="304" height="916"/>
<text class="ttl" x="2347" y="1280">11</text>
<g class="qtl">
<rect class="YLD" x="2195.8" y="1328" width="12.6" height="103.5"/>
<rect class="Zn" x="2224.2" y="1318" width="13" height="104"/>
<rect class="PL" x="2255.8" y="1321.5" width="12.9" height="103.5"/>
<rect class="GW" x="2285.2" y="1395.6" width="12.3" height="103.5"/>
<rect class="NT" x="2224.2" y="1467" width="13" height="105"/>
<rect class="TGW" x="2253" y="1509" width="13" height="105"/>
<rect class="Fe" x="2284.5" y="1509" width="13" height="105"/>
<rect class="Zn" x="2203.1" y="1771" width="13.7" height="104.8"/>
<rect class="PH" x="2224.2" y="1771" width="13.7" height="104.8"/>
<rect class="GL" x="2250.2" y="1784" width="13.3" height="105.5"/>
<rect class="GW" x="2276.5" y="1787.6" width="12.6" height="103.4"/>
<rect class="YLD" x="2279.3" y="2088" width="13" height="105"/>
</g>
<rect class="rod" x="2311.5" y="1316.8" width="27.5" height="894.8" rx="13.7" ry="12"/>
<path class="tk" d="M2312 1332h27M2312 1345h27M2312 1347h27M2312 1364h27M2312 1515h27M2312 1522h27M2312 1525h27M2312 1596h27M2312 1793h27M2312 1809h27M2312 1826h27M2312 1910h27M2312 1997h27M2312 2029h27M2312 2049h27M2312 2050h27M2312 2124h27M2312 2139h27M2312 2193h27"/>
<path class="lk" d="M2349 1332H2388L2463 1332H2478M2349 1345H2388L2463 1357H2478M2349 1347H2388L2463 1382H2478M2349 1364H2388L2463 1407H2478M2349 1515H2388L2463 1509H2478M2349 1522H2388L2463 1534H2478M2349 1525H2388L2463 1561H2478M2349 1596H2388L2463 1595H2478M2349 1793H2388L2463 1788H2478M2349 1809H2388L2463 1813H2478M2349 1826H2388L2463 1840H2478M2349 1910H2388L2463 1910H2478M2349 1997H2388L2463 1991H2478M2349 2029H2388L2463 2023H2478M2349 2049H2388L2463 2048H2478M2349 2050H2388L2463 2076H2478M2349 2124H2388L2463 2123H2478M2349 2139H2388L2463 2148H2478M2349 2193H2388L2463 2193H2478"/>
<g class="lb wC">
<text x="2490" y="1334">0,00</text><text x="2490" y="1359">0,38</text><text x="2490" y="1384">0,43</text><text x="2490" y="1409">0,93</text><text x="2490" y="1511">5,35</text><text x="2490" y="1536">5,55</text><text x="2490" y="1563">5,65</text><text x="2490" y="1597">7,73</text><text x="2490" y="1790">13,51</text><text x="2490" y="1815">13,98</text><text x="2490" y="1842">14,47</text><text x="2490" y="1912">16,92</text><text x="2490" y="1993">19,47</text><text x="2490" y="2025">20,41</text><text x="2490" y="2050">21,01</text><text x="2490" y="2078">21,02</text><text x="2490" y="2125">23,19</text><text x="2490" y="2150">23,65</text><text x="2490" y="2195">25,22</text>
</g>
</g>

<!-- ================= CHR 12 ================= -->
<g id="chr12">
<path class="frame" d="M2768 1271.4H3055.7V2231.6H2856.7V2251H2768Z"/>
<text class="ttl" x="2822" y="1277">12</text>
<g class="qtl">
<rect class="Zn" x="2678.5" y="1337" width="12" height="104.8"/>
<rect class="PL" x="2678.5" y="1451.7" width="12" height="105.5"/>
<rect class="PH" x="2703.3" y="1358.2" width="14" height="104.2"/>
<rect class="TGW" x="2732.7" y="1370.2" width="13.3" height="103.5"/>
<rect class="GW" x="2751" y="1437" width="13" height="105.5"/>
<rect class="GL" x="2704" y="1498.4" width="13.3" height="104.2"/>
<rect class="Fe" x="2732.7" y="1490.4" width="13.3" height="105.5"/>
<rect class="YLD" x="2751" y="1827.6" width="13" height="105"/>
<rect class="Zn" x="2727.7" y="1982.5" width="13.3" height="103.5"/>
<rect class="FLW" x="2756.7" y="1981.2" width="12.6" height="106.8"/>
<rect class="GL" x="2732.7" y="2121.4" width="13.3" height="105.5"/>
<rect class="Fe" x="2753.3" y="2103.4" width="13.3" height="104.8"/>
</g>
<rect class="rod" x="2780" y="1294.8" width="26.7" height="916.8" rx="13.3" ry="12"/>
<path class="tk" d="M2780 1312h27M2780 1324h27M2780 1325h27M2780 1367h27M2780 1385h27M2780 1401h27M2780 1446h27M2780 1475h27M2780 1479h27M2780 1492h27M2780 1573h27M2780 1579h27M2780 1588h27M2780 1632h27M2780 1637h27M2780 1684h27M2780 1687h27M2780 1714h27M2780 1786h27M2780 1844h27M2780 1870h27M2780 1913h27M2780 2019h27M2780 2057h27M2780 2159h27M2780 2173h27M2780 2177h27M2780 2193h27"/>
<path class="lk" d="M2817 1312H2855L2933 1312H2944M2817 1324H2855L2933 1336H2944M2817 1325H2855L2933 1362H2944M2817 1367H2855L2933 1387H2944M2817 1385H2855L2933 1412H2944M2817 1401H2855L2933 1437H2944M2817 1446H2855L2933 1462H2944M2817 1475H2855L2933 1487H2944M2817 1479H2855L2933 1513H2944M2817 1492H2855L2933 1537H2944M2817 1573H2855L2933 1572H2944M2817 1579H2855L2933 1596H2944M2817 1588H2855L2933 1622H2944M2817 1632H2855L2933 1645H2944M2817 1637H2855L2933 1671H2944M2817 1684H2855L2933 1696H2944M2817 1687H2855L2933 1721H2944M2817 1714H2855L2933 1746H2944M2817 1786H2855L2933 1786H2944M2817 1844H2855L2933 1842H2944M2817 1870H2855L2933 1870H2944M2817 1913H2855L2933 1912H2944M2817 2019H2855L2933 2020H2944M2817 2057H2855L2933 2057H2944M2817 2159H2855L2933 2152H2944M2817 2173H2855L2933 2176H2944M2817 2177H2855L2933 2205H2944M2817 2193H2855L2933 2232H2944"/>
<g class="lb wC">
<text x="2955" y="1314">0,00</text><text x="2955" y="1338">0,35</text><text x="2955" y="1364">0,38</text><text x="2955" y="1389">1,62</text><text x="2955" y="1414">2,15</text><text x="2955" y="1439">2,60</text><text x="2955" y="1464">3,91</text><text x="2955" y="1489">4,75</text><text x="2955" y="1515">4,88</text><text x="2955" y="1539">5,25</text><text x="2955" y="1574">7,60</text><text x="2955" y="1598">7,79</text><text x="2955" y="1624">8,05</text><text x="2955" y="1647">9,33</text><text x="2955" y="1673">9,47</text><text x="2955" y="1698">10,83</text><text x="2955" y="1723">10,92</text><text x="2955" y="1748">11,73</text><text x="2955" y="1788">13,82</text><text x="2955" y="1844">15,49</text><text x="2955" y="1872">16,26</text><text x="2955" y="1914">17,50</text><text x="2955" y="2022">20,60</text><text x="2955" y="2059">21,70</text><text x="2955" y="2154">24,68</text><text x="2955" y="2178">25,09</text><text x="2955" y="2207">25,20</text><text x="2955" y="2234">25,66</text>
</g>
</g>
</svg>
